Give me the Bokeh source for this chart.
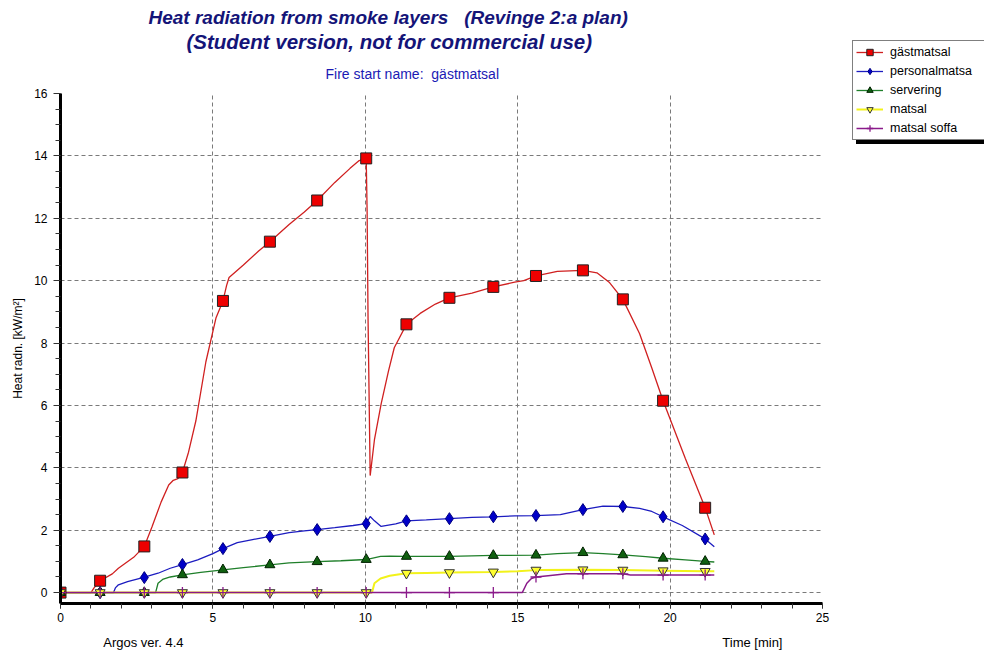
import math
from bokeh.plotting import figure
from bokeh.layouts import row
from bokeh.models import (Legend, LegendItem, Title, FixedTicker, Range1d, LinearAxis)
from bokeh.embed import file_html
from bokeh.resources import INLINE

# ---------------- data ----------------
series_names = ["gästmatsal", "personalmatsa", "servering", "matsal", "matsal soffa"]

red_t = [0, 1.0, 1.1, 1.3, 1.7, 1.9, 2.4, 2.75, 3.0, 3.3, 3.55, 3.7, 3.85, 4.0, 4.2, 4.44, 4.77,
         5.1, 5.33, 5.45, 5.53, 6.0, 6.5, 6.87, 7.5, 8.0, 8.42, 9.0, 9.5, 9.8, 10.03, 10.06,
         10.09, 10.16, 10.3, 10.52, 10.76, 10.95, 11.35, 11.8, 12.3, 12.76, 13.5, 14.2, 14.9,
         15.2, 15.6, 16.3, 17.14, 17.6, 18.0, 18.45, 19.0, 19.4, 19.77, 20.5, 21.15, 21.45]
red_v = [0, 0, 0.15, 0.38, 0.6, 0.78, 1.13, 1.48, 2.1, 2.9, 3.45, 3.6, 3.65, 3.85, 4.5, 5.5, 7.4,
         8.8, 9.35, 9.85, 10.1, 10.5, 10.95, 11.25, 11.8, 12.2, 12.57, 13.15, 13.6, 13.85, 13.92, 12.2,
         8.8, 3.75, 4.9, 6.05, 7.1, 7.85, 8.6, 8.95, 9.25, 9.45, 9.6, 9.8, 9.95,
         10.0, 10.15, 10.3, 10.33, 10.25, 9.95, 9.4, 8.3, 7.2, 6.15, 4.3, 2.72, 1.85]

blue_t = [0, 1.74, 1.8, 1.9, 2.2, 2.7, 3.2, 3.6, 4.0, 4.5, 5.0, 5.33, 5.8, 6.3, 6.87, 7.5, 8.0,
          8.42, 9.0, 9.6, 10.03, 10.16, 10.3, 10.52, 11.0, 11.35, 12.0, 12.76, 13.5, 14.2, 14.9,
          15.6, 16.4, 17.14, 17.8, 18.45, 19.0, 19.4, 19.77, 20.4, 21.15, 21.45]
blue_v = [0, 0, 0.15, 0.25, 0.35, 0.48, 0.62, 0.78, 0.9, 1.05, 1.25, 1.41, 1.6, 1.7, 1.8, 1.92, 1.98,
          2.02, 2.08, 2.15, 2.21, 2.44, 2.3, 2.12, 2.2, 2.3, 2.33, 2.37, 2.41, 2.43, 2.46,
          2.47, 2.5, 2.66, 2.77, 2.76, 2.7, 2.6, 2.43, 2.15, 1.72, 1.47]

green_t = [0, 3.12, 3.2, 3.35, 3.6, 4.0, 4.6, 5.33, 6.0, 6.87, 7.5, 8.42, 9.2, 10.03, 10.5, 10.8,
           11.35, 12.76, 13.5, 14.2, 15.6, 16.3, 17.14, 17.8, 18.45, 19.2, 19.77, 20.5, 21.15, 21.45]
green_v = [0, 0, 0.3, 0.42, 0.5, 0.57, 0.65, 0.73, 0.8, 0.89, 0.95, 0.99, 1.02, 1.06, 1.16, 1.17,
           1.16, 1.16, 1.18, 1.19, 1.2, 1.25, 1.28, 1.25, 1.21, 1.15, 1.1, 1.05, 1.0, 0.98]

yellow_t = [0, 10.22, 10.3, 10.5, 10.8, 11.35, 12.0, 12.76, 14.2, 15.0, 15.6, 17.14, 18.45,
            19.77, 21.15, 21.45]
yellow_v = [0, 0, 0.3, 0.45, 0.54, 0.62, 0.63, 0.64, 0.66, 0.68, 0.72, 0.73, 0.72,
            0.7, 0.68, 0.68]

purple_t = [0, 15.15, 15.3, 15.45, 15.6, 16.0, 16.6, 17.14, 18.45, 18.7, 19.77, 21.15, 21.45]
purple_v = [0, 0, 0.3, 0.45, 0.5, 0.54, 0.6, 0.6, 0.6, 0.56, 0.56, 0.56, 0.56]

marker_t = [0, 1.3, 2.75, 4.0, 5.33, 6.87, 8.42, 10.03, 11.35, 12.76, 14.2, 15.6, 17.14,
            18.45, 19.77, 21.15]
red_m = [0, 0.38, 1.48, 3.85, 9.35, 11.25, 12.57, 13.92, 8.6, 9.45, 9.8, 10.15, 10.33, 9.4, 6.15, 2.72]
blue_m = [0, 0, 0.48, 0.9, 1.41, 1.8, 2.02, 2.21, 2.3, 2.37, 2.43, 2.47, 2.66, 2.76, 2.43, 1.72]
green_m = [0, 0, 0, 0.57, 0.73, 0.89, 0.99, 1.06, 1.16, 1.16, 1.19, 1.2, 1.28, 1.21, 1.1, 1.0]
yellow_m = [0, 0, 0, 0, 0, 0, 0, 0, 0.62, 0.64, 0.66, 0.72, 0.73, 0.72, 0.7, 0.68]
purple_m = [0, 0, 0, 0, 0, 0, 0, 0, 0, 0, 0, 0.5, 0.6, 0.6, 0.56, 0.56]

x_ticks = [0, 5, 10, 15, 20, 25]
y_ticks = [0, 2, 4, 6, 8, 10, 12, 14, 16]

NB = "\u00a0"
title1 = "Heat radiation from smoke layers" + NB * 3 + "(Revinge 2:a plan)"
title2 = "(Student version, not for commercial use)"
subtitle = "Fire start name:" + NB * 2 + "gästmatsal"
y_label = "Heat radn. [kW/m²]"
x_label = "Time [min]"
version = "Argos ver. 4.4"
# positions (in minutes) where the two footer texts sit under the x axis
footer_pos = [2.72, 22.7]

# ---------------- main figure ----------------
FONT = "Liberation Sans"
W, H = 984, 652
W1 = 842                       # main figure width; legend panel takes the rest
L, T, B = 60, 93, 48

p = figure(width=W1, height=H, output_backend="svg", toolbar_location=None,
           x_range=Range1d(0, 25), y_range=Range1d(-0.35, 16),
           min_border_left=L, min_border_right=W1 - 822, min_border_top=T, min_border_bottom=B)
p.frame_align = False
p.outline_line_color = None
p.background_fill_color = "white"
p.border_fill_color = "white"

for ax in (p.xaxis[0], p.yaxis[0]):
    ax.axis_line_width = 3
    ax.axis_line_color = "black"
    ax.major_tick_line_color = "#333333"
    ax.minor_tick_line_color = "#333333"
    ax.major_tick_in = 0
    ax.minor_tick_in = 0
    ax.major_label_text_font = FONT
    ax.major_label_text_font_size = "12px"
    ax.major_label_text_color = "black"

p.xaxis[0].ticker = FixedTicker(ticks=x_ticks, minor_ticks=list(range(0, 26)))
p.yaxis[0].ticker = FixedTicker(ticks=y_ticks, minor_ticks=[i * 0.5 for i in range(0, 33)])
p.xaxis[0].major_tick_out = 5
p.xaxis[0].minor_tick_out = 5
p.xaxis[0].major_label_standoff = 4
p.yaxis[0].major_tick_out = 7
p.yaxis[0].minor_tick_out = 5
p.yaxis[0].major_label_standoff = 6
p.yaxis[0].axis_label = y_label
p.yaxis[0].axis_label_text_font = FONT
p.yaxis[0].axis_label_text_font_size = "12px"
p.yaxis[0].axis_label_text_font_style = "normal"
p.yaxis[0].axis_label_text_color = "black"
p.yaxis[0].axis_label_standoff = 6

# footer texts as a second, line-less axis below the main one
footer = LinearAxis(ticker=FixedTicker(ticks=footer_pos),
                    major_label_overrides={footer_pos[0]: version, footer_pos[1]: x_label},
                    axis_line_color=None, major_tick_line_color=None, minor_tick_line_color=None,
                    major_tick_out=0, major_tick_in=0, major_label_standoff=10,
                    major_label_text_font=FONT, major_label_text_font_size="13px",
                    major_label_text_color="black")
p.add_layout(footer, "below")

for g in (p.xgrid[0], p.ygrid[0]):
    g.grid_line_color = "#7a7a7a"
    g.grid_line_dash = "4 3"
    g.grid_line_width = 1
p.xgrid[0].ticker = FixedTicker(ticks=x_ticks)
p.ygrid[0].ticker = FixedTicker(ticks=y_ticks)

styles = [
    dict(line=dict(line_color="#d02020", line_width=1.3),
         mark=dict(marker="square", size=11, fill_color="#ee0000", line_color="#222222", line_width=1)),
    dict(line=dict(line_color="#1c1cc0", line_width=1.3),
         mark=dict(marker="diamond", size=12, fill_color="#0000c8", line_color="#000080", line_width=1)),
    dict(line=dict(line_color="#1f7f2a", line_width=1.3),
         mark=dict(marker="triangle", size=10, fill_color="#106010", line_color="#002000", line_width=1)),
    dict(line=dict(line_color="#f2f21a", line_width=2),
         mark=dict(marker="inverted_triangle", size=10, fill_color="#ffff30", line_color="#333333", line_width=1)),
    dict(line=dict(line_color="#8a1a8a", line_width=1.5),
         mark=dict(marker="cross", size=11, line_color="#8a1a8a", line_width=1.3)),
]
curves = [(red_t, red_v), (blue_t, blue_v), (green_t, green_v), (yellow_t, yellow_v), (purple_t, purple_v)]
marks = [red_m, blue_m, green_m, yellow_m, purple_m]

for (ct, cv), st in zip(curves, styles):
    p.line(ct, cv, **st["line"])
for mv, st in zip(marks, styles):
    p.scatter(marker_t, mv, **st["mark"])

# titles above (first added sits closest to the plot)
p.add_layout(Title(text=subtitle, align="left", offset=265, standoff=23,
                   text_font=FONT, text_font_size="14px", text_font_style="normal",
                   text_color="#1a1ab4"), "above")
p.add_layout(Title(text=title2, align="left", offset=126, standoff=0,
                   text_font=FONT, text_font_size="20.5px", text_font_style="bold italic",
                   text_color="#141478"), "above")
p.add_layout(Title(text=title1, align="left", offset=88, standoff=0,
                   text_font=FONT, text_font_size="19px", text_font_style="bold italic",
                   text_color="#141478"), "above")

# ---------------- legend panel (to the right of the plot) ----------------
# Same series drawn again, but the view window lies outside the data, so only the legend shows.
q = figure(width=W - W1, height=H, output_backend="svg", toolbar_location=None,
           x_range=Range1d(100, 101), y_range=Range1d(100, 101),
           min_border=0, min_border_left=0, min_border_right=0, min_border_top=0, min_border_bottom=0)
q.frame_align = False
q.axis.visible = False
q.grid.visible = False
q.outline_line_color = None
q.background_fill_color = "white"
q.border_fill_color = "white"

pairs = []
for (ct, cv), mv, st in zip(curves, marks, styles):
    lr = q.line(ct, cv, **st["line"])
    mr = q.scatter(marker_t, mv, **st["mark"])
    pairs.append([lr, mr])

# shadow box behind the legend (no labels of its own)
shadow_items = [LegendItem(label=NB, renderers=[pr[0]]) for pr in pairs]
shadow = Legend(items=shadow_items, location=(14, 508), orientation="vertical",
                label_text_font=FONT, label_text_font_size="12.5px", label_text_alpha=0,
                glyph_width=27, glyph_height=16, label_height=16, label_standoff=7,
                label_width=110, spacing=3, padding=3, margin=0,
                border_line_color="black", border_line_width=1,
                background_fill_color="black", background_fill_alpha=1.0)
items = [LegendItem(label=n, renderers=pr) for n, pr in zip(series_names, pairs)]
legend = Legend(items=items, location=(10, 512), orientation="vertical",
                label_text_font=FONT, label_text_font_size="12.5px",
                label_text_color="black",
                glyph_width=27, glyph_height=16, label_height=16, label_standoff=7,
                label_width=110, spacing=3, padding=3, margin=0,
                border_line_color="black", border_line_width=1,
                background_fill_color="white", background_fill_alpha=1.0)
q.add_layout(shadow, "center")
q.add_layout(legend, "center")

layout = row(p, q, spacing=0)
open("out.html", "w").write(file_html(layout, INLINE))
